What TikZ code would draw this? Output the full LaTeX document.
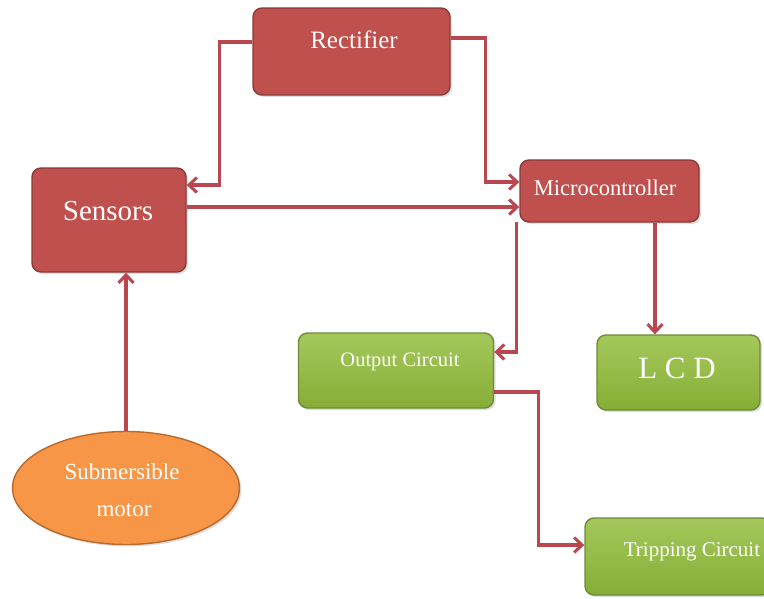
\documentclass[tikz,border=0pt]{standalone}
\usepackage{fontspec}
\setmainfont{Liberation Serif}
\usetikzlibrary{arrows.meta,shadows,shapes.geometric}
\definecolor{redfill}{HTML}{C0504D}
\definecolor{redline}{HTML}{8C3A38}
\definecolor{greentop}{HTML}{A4C85C}
\definecolor{greenbot}{HTML}{86AE35}
\definecolor{greenline}{HTML}{6E8A3A}
\definecolor{orangefill}{HTML}{F79646}
\definecolor{orangeline}{HTML}{B8692C}
\definecolor{wire}{HTML}{BA4750}
\begin{document}
\begin{tikzpicture}[x=1pt,y=-1pt,
  shade/.style={drop shadow={opacity=0.25,shadow xshift=2pt,shadow yshift=-2pt}},
  redbox/.style={draw=redline,line width=1.4pt,fill=redfill,rounded corners=9pt,inner sep=0pt,shade},
  greenbox/.style={draw=greenline,line width=1.4pt,top color=greentop,bottom color=greenbot,rounded corners=9pt,inner sep=0pt,shade},
  motorbox/.style={ellipse,draw=orangeline,line width=1.4pt,fill=orangefill,inner sep=0pt,shade},
  lbl/.style={text=white,inner sep=0pt},
  wireline/.style={draw=wire,line width=3.4pt,-{Straight Barb[length=8pt,width=15pt,line width=3pt]}},
]
\useasboundingbox (0,0) rectangle (764,598);
\fill[white] (0,0) rectangle (764,598);

% boxes
\node[redbox,minimum width=197pt,minimum height=87pt] (rect) at (351.5,51.5) {};
\node[redbox,minimum width=154pt,minimum height=104pt] (sens) at (109,220) {};
\node[redbox,minimum width=179pt,minimum height=62pt] (micro) at (609.5,191) {};
\node[greenbox,minimum width=195pt,minimum height=75pt] (out) at (396,370.5) {};
\node[greenbox,minimum width=163pt,minimum height=75pt] (lcd) at (678.5,372.5) {};
\node[greenbox,minimum width=186pt,minimum height=77pt] (trip) at (678,556.5) {};
\node[motorbox,minimum width=227pt,minimum height=113pt] (motor) at (126,488) {};

% labels
\node[lbl,font=\fontsize{25}{27}\selectfont] (rectT) at (354,40) {Rectifier};
\node[lbl,font=\fontsize{29}{31}\selectfont] (sensT) at (108,211) {Sensors};
\node[lbl,font=\fontsize{22.5}{24}\selectfont] (microT) at (605,188) {Microcontroller};
\node[lbl,font=\fontsize{20.5}{22}\selectfont] (outT) at (400,362) {Output Circuit};
\node[lbl,font=\fontsize{31}{33}\selectfont] (lcdT) at (677,368) {L C D};
\node[lbl,font=\fontsize{21}{23}\selectfont] (tripT) at (692,552) {Tripping Circuit};
\node[lbl,font=\fontsize{23}{25}\selectfont] (motT1) at (122,472) {Submersible};
\node[lbl,font=\fontsize{23}{25}\selectfont] (motT2) at (124,510) {motor};

% connectors
\draw[wireline] ([yshift=9.5pt]rect.west) -- ++(-33,0) |- ([yshift=35pt]sens.east);
\draw[wireline] ([yshift=13.5pt]rect.east) -- ++(35,0) |- ([yshift=9pt]micro.west);
\draw[wireline] ([yshift=13pt]sens.east) -- ([yshift=13pt]sens.east -| micro.west);
\draw[wireline] ([xshift=-3pt,yshift=1pt]micro.south west) |- ([yshift=18.5pt]out.east);
\draw[wireline] ([xshift=-23.5pt]lcd.north |- micro.south) -- ([xshift=-23.5pt]lcd.north);
\draw[wireline] (motor.north) -- (motor.north |- sens.south);
\draw[wireline] ([yshift=-21.5pt]out.east) -- ++(44,0) |- ([yshift=11.5pt]trip.west);
\end{tikzpicture}
\end{document}
